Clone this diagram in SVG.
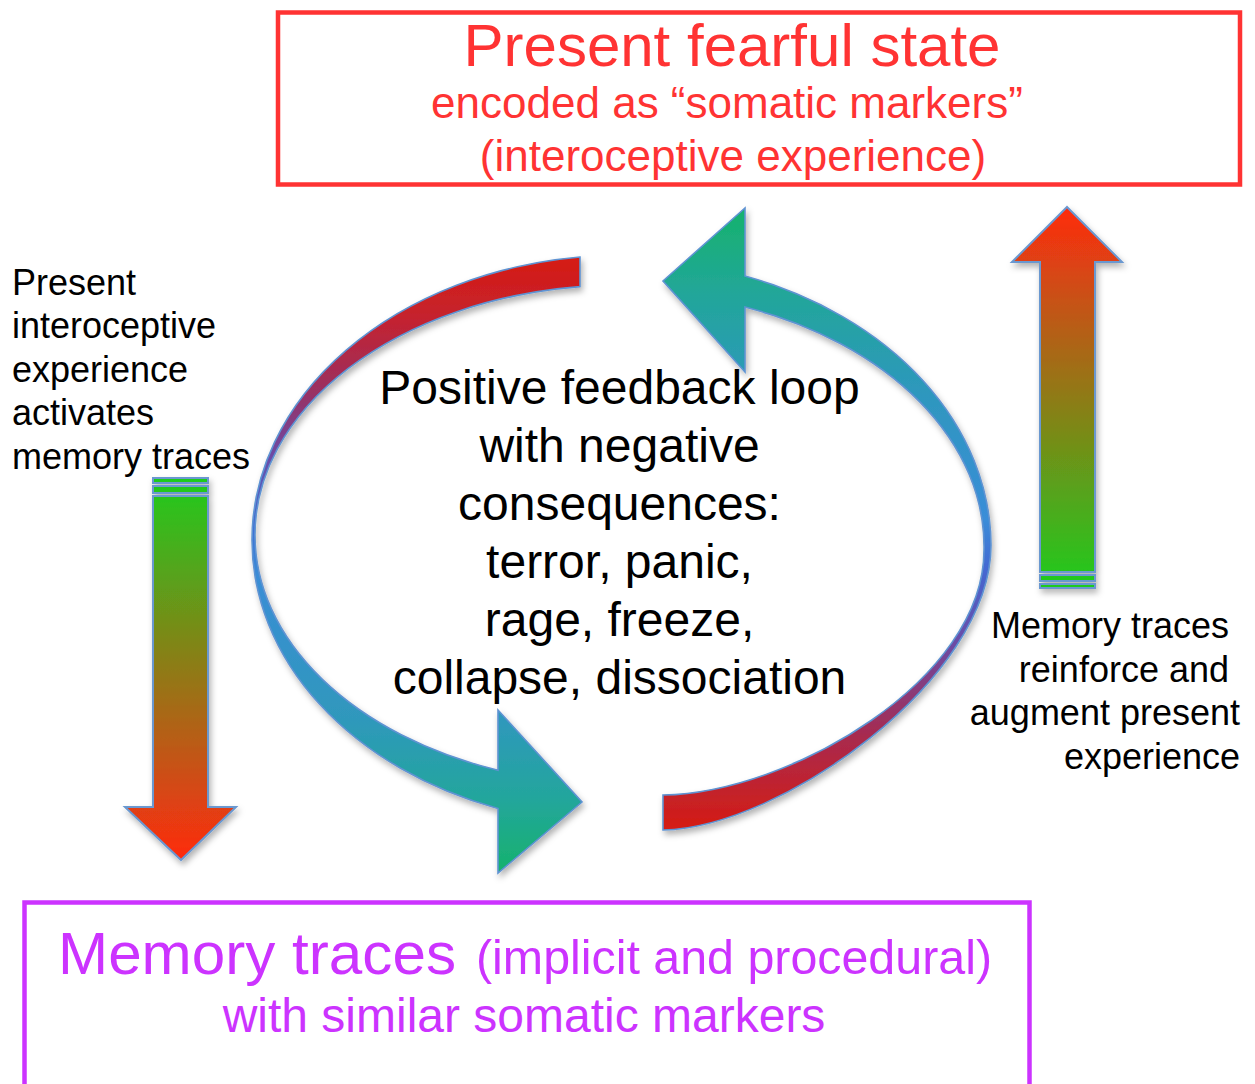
<svg xmlns="http://www.w3.org/2000/svg" width="1255" height="1084" viewBox="0 0 1255 1084">
<style>
  .t { font-family: "Liberation Sans", Arial, Helvetica, sans-serif; }
  .red { fill: #FF3333; }
  .pur { fill: #CC33FF; }
  .blk { fill: #000000; }
  .box { fill: #FFFFFF; stroke-width: 4.5; }
  .arr { stroke: #5E93D2; stroke-width: 1.6; stroke-linejoin: miter; }
  .sarr { stroke: #6A98D0; stroke-width: 2; }
</style>
<defs>
  <filter id="sh" x="-20%" y="-20%" width="140%" height="140%">
    <feDropShadow dx="2" dy="4" stdDeviation="3" flood-color="#000" flood-opacity="0.3"/>
  </filter>
  <linearGradient id="gLeft" gradientUnits="userSpaceOnUse" x1="0" y1="255" x2="0" y2="873">
    <stop offset="0" stop-color="#D61C12"/>
    <stop offset="0.1" stop-color="#C5222E"/>
    <stop offset="0.22" stop-color="#9A3062"/>
    <stop offset="0.33" stop-color="#6A4CA8"/>
    <stop offset="0.44" stop-color="#3E6ED6"/>
    <stop offset="0.52" stop-color="#3A8DD6"/>
    <stop offset="0.75" stop-color="#2F98BC"/>
    <stop offset="0.88" stop-color="#23A69C"/>
    <stop offset="1" stop-color="#16B26C"/>
  </linearGradient>
  <linearGradient id="gRight" gradientUnits="userSpaceOnUse" x1="0" y1="208" x2="0" y2="830">
    <stop offset="0" stop-color="#16B26C"/>
    <stop offset="0.14" stop-color="#22A69A"/>
    <stop offset="0.3" stop-color="#2E97BE"/>
    <stop offset="0.5" stop-color="#3A8DD8"/>
    <stop offset="0.58" stop-color="#4468D2"/>
    <stop offset="0.7" stop-color="#6C4BA4"/>
    <stop offset="0.85" stop-color="#A82A4E"/>
    <stop offset="1" stop-color="#D61C12"/>
  </linearGradient>
  <linearGradient id="gDown" gradientUnits="userSpaceOnUse" x1="0" y1="478" x2="0" y2="860">
    <stop offset="0" stop-color="#1ECC1E"/>
    <stop offset="1" stop-color="#FF2A10"/>
  </linearGradient>
  <linearGradient id="gUp" gradientUnits="userSpaceOnUse" x1="0" y1="588" x2="0" y2="207">
    <stop offset="0" stop-color="#1ECC1E"/>
    <stop offset="1" stop-color="#FF2A10"/>
  </linearGradient>
</defs>

<rect width="1255" height="1084" fill="#FFFFFF"/>

<g id="connectors">
  <g id="loop-left" filter="url(#sh)">
    <path class="arr" fill="url(#gLeft)" d="M 580 257 A 370 285 0 0 0 252 540 A 370 285 0 0 0 498 808.5 L 498 873 L 582 802 L 498 710 L 498 770.3 A 367 250 0 0 1 255 535 A 367 250 0 0 1 580 286.6 Z"/>
  </g>
  <g id="loop-right" filter="url(#sh)">
    <path class="arr" fill="url(#gRight)" d="M 745 276 A 371 287 0 0 1 991 545 C 991 680 780 828 663 830 L 663 795 C 790 793 984 680 984 550 A 364 255 0 0 0 745 307 L 745 372 L 663 281 L 745 208 Z"/>
  </g>
  <g id="arrow-down" filter="url(#sh)">
    <rect class="sarr" fill="url(#gDown)" x="153" y="478" width="55" height="5"/>
    <rect class="sarr" fill="url(#gDown)" x="153" y="486" width="55" height="7"/>
    <path class="sarr" fill="url(#gDown)" d="M 153 496 L 208 496 L 208 807 L 236 807 L 181 860 L 125 807 L 153 807 Z"/>
  </g>
  <g id="arrow-up" filter="url(#sh)">
    <path class="sarr" fill="url(#gUp)" d="M 1040 572 L 1095 572 L 1095 262 L 1122 262 L 1067 207 L 1012 262 L 1040 262 Z"/>
    <rect class="sarr" fill="url(#gUp)" x="1040" y="575" width="55" height="6"/>
    <rect class="sarr" fill="url(#gUp)" x="1040" y="584" width="55" height="4"/>
  </g>
</g>

<g id="node-present-state">
  <rect class="box" stroke="#FF3333" x="278" y="12.5" width="962" height="172"/>
  <text class="t red" x="732" y="66" font-size="60" text-anchor="middle">Present fearful state</text>
  <text class="t red" x="727" y="118" font-size="44" text-anchor="middle">encoded as “somatic markers”</text>
  <text class="t red" x="733" y="171" font-size="44" text-anchor="middle">(interoceptive experience)</text>
</g>

<g id="node-memory-traces">
  <rect class="box" stroke="#CC33FF" x="24.5" y="902.5" width="1005" height="200"/>
  <text class="t pur" x="58" y="974" font-size="60" textLength="398" lengthAdjust="spacingAndGlyphs">Memory traces</text>
  <text class="t pur" x="476" y="974" font-size="48" textLength="516" lengthAdjust="spacingAndGlyphs">(implicit and procedural)</text>
  <text class="t pur" x="524" y="1032" font-size="48" text-anchor="middle">with similar somatic markers</text>
</g>

<g id="label-loop">
  <text class="t blk" x="619.5" y="404" font-size="48" text-anchor="middle">Positive feedback loop</text>
  <text class="t blk" x="619.5" y="462" font-size="48" text-anchor="middle">with negative</text>
  <text class="t blk" x="619.5" y="520" font-size="48" text-anchor="middle">consequences:</text>
  <text class="t blk" x="619.5" y="578" font-size="48" text-anchor="middle">terror, panic,</text>
  <text class="t blk" x="619.5" y="636" font-size="48" text-anchor="middle">rage, freeze,</text>
  <text class="t blk" x="619.5" y="694" font-size="48" text-anchor="middle">collapse, dissociation</text>
</g>

<g id="label-left">
  <text class="t blk" x="12" y="295" font-size="36">Present</text>
  <text class="t blk" x="12" y="338" font-size="36">interoceptive</text>
  <text class="t blk" x="12" y="382" font-size="36">experience</text>
  <text class="t blk" x="12" y="425" font-size="36">activates</text>
  <text class="t blk" x="12" y="469" font-size="36">memory traces</text>
</g>

<g id="label-right">
  <text class="t blk" x="1229" y="638" font-size="36" text-anchor="end">Memory traces</text>
  <text class="t blk" x="1229" y="682" font-size="36" text-anchor="end">reinforce and</text>
  <text class="t blk" x="1240" y="725" font-size="36" text-anchor="end">augment present</text>
  <text class="t blk" x="1240" y="769" font-size="36" text-anchor="end">experience</text>
</g>
</svg>
